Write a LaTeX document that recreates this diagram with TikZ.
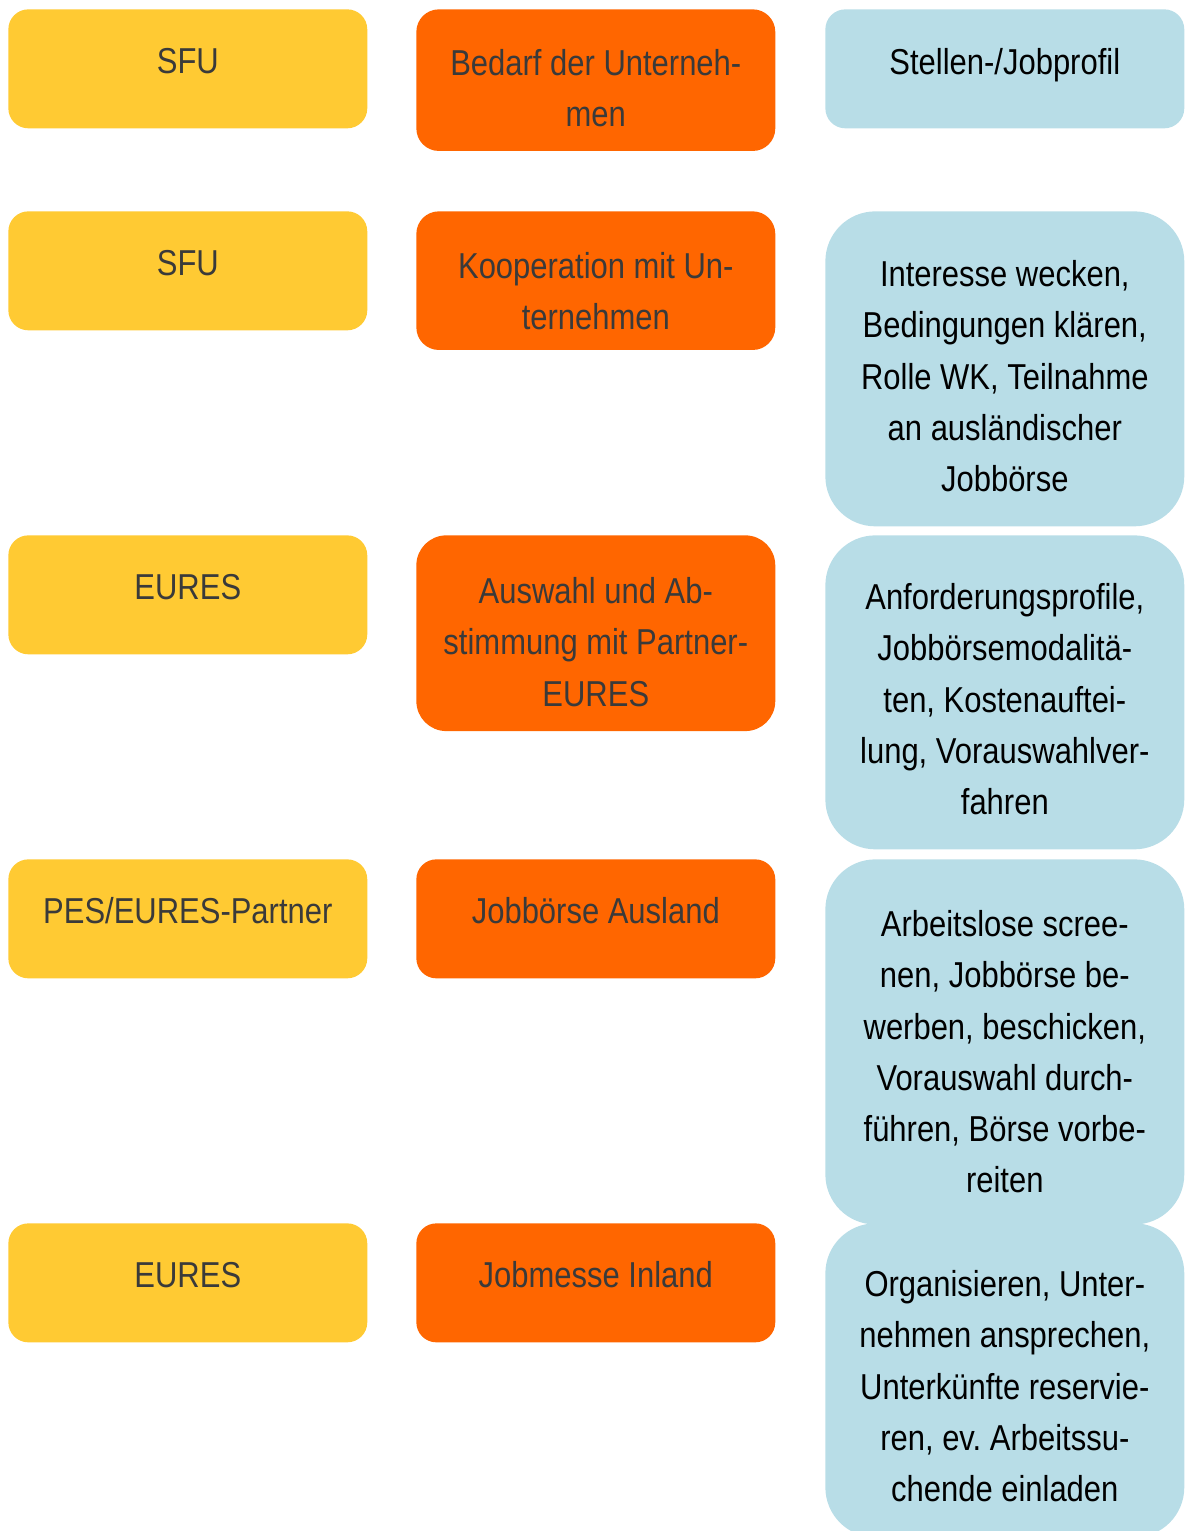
\documentclass[tikz,border=0pt]{standalone}
\usepackage{fontspec}
\setmainfont{Liberation Sans}[FakeStretch=0.86]
\definecolor{gelb}{HTML}{FFCA33}
\definecolor{orange}{HTML}{FF6600}
\definecolor{hellblau}{HTML}{B8DDE7}
\definecolor{dunkelgrau}{HTML}{3A3A3A}
\newcommand{\kastenfont}{\fontsize{20.5pt}{29.1pt}\selectfont\frenchspacing}
\newcommand{\kastenoben}{1.29cm}
\newcommand{\kastenunten}{1.09cm}
\begin{document}
\begin{tikzpicture}[
      x=0.02cm, y=-0.02cm,
      oben/.code={\renewcommand{\kastenoben}{#1}},
      unten/.code={\renewcommand{\kastenunten}{#1}},
      kasten/.style={
        anchor=north west,
        inner sep=0pt,
        minimum width=7.18cm,
        text width=6.9cm,
        align=flush center,
        font=\kastenfont,
        execute at begin node={\rule{0pt}{\kastenoben}},
        execute at end node={\rule[-\kastenunten]{0pt}{0pt}}
      },
      akteur/.style={kasten, fill=gelb, text=dunkelgrau, rounded corners=0.4cm, oben=1.29cm, unten=1.09cm},
      aufgabe/.style={kasten, fill=orange, text=dunkelgrau, rounded corners=0.45cm},
      detail/.style={kasten, fill=hellblau, text=black, rounded corners=1cm}
    ]
    \useasboundingbox (0,0) rectangle (1184,1531);
    % Zeile 1
    \node[akteur] (a1) at (8,9) {SFU} ;
    \node[aufgabe, oben=1.32cm, unten=0.49cm] (b1) at (416,9) {Bedarf der Unterneh-\\men} ;
    \node[detail, oben=1.30cm, unten=1.08cm, rounded corners=0.4cm] (c1) at (825,9) {Stellen-/Jobprofil} ;
    % Zeile 2
    \node[akteur] (a2) at (8,211) {SFU} ;
    \node[aufgabe, oben=1.34cm, unten=0.41cm] (b2) at (416,211) {Kooperation mit Un-\\ternehmen} ;
    \node[detail, oben=1.51cm, unten=0.70cm] (c2) at (825,211) {Interesse wecken,\\Bedingungen klären,\\Rolle WK, Teilnahme\\an ausländischer\\Jobbörse} ;
    % Zeile 3
    \node[akteur] (a3) at (8,535) {EURES} ;
    \node[aufgabe, oben=1.37cm, unten=0.50cm, rounded corners=0.6cm] (b3) at (416,535) {Auswahl und Ab-\\stimmung mit Partner-\\EURES} ;
    \node[detail, oben=1.49cm, unten=0.70cm] (c3) at (825,535) {Anforderungsprofile,\\Jobbörsemodalitä-\\ten, Kostenauftei-\\lung, Vorauswahlver-\\fahren} ;
    % Zeile 4
    \node[akteur] (a4) at (8,859) {PES/EURES-Partner} ;
    \node[aufgabe, oben=1.29cm, unten=1.09cm, rounded corners=0.4cm] (b4) at (416,859) {Jobbörse Ausland} ;
    \node[detail, oben=1.55cm, unten=0.64cm] (c4) at (825,859) {Arbeitslose scree-\\nen, Jobbörse be-\\werben, beschicken,\\Vorauswahl durch-\\führen, Börse vorbe-\\reiten} ;
    % Zeile 5
    \node[akteur] (a5) at (8,1223) {EURES} ;
    \node[aufgabe, oben=1.29cm, unten=1.09cm, rounded corners=0.4cm] (b5) at (416,1223) {Jobmesse Inland} ;
    \node[detail, oben=1.47cm, unten=0.72cm] (c5) at (825,1223) {Organisieren, Unter-\\nehmen ansprechen,\\Unterkünfte reservie-\\ren, ev. Arbeitssu-\\chende einladen} ;
  \end{tikzpicture}
\end{document}
